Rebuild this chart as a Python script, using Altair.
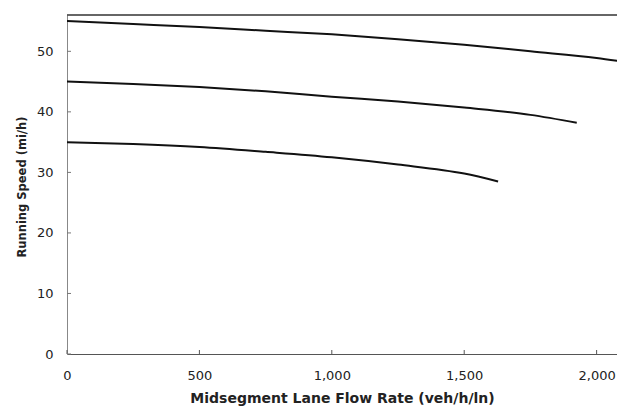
import altair as alt
import pandas as pd

# Data
flow_55 = [0, 250, 500, 750, 1000, 1250, 1500, 1750, 2000, 2100]
speed_55 = [55.0, 54.5, 54.0, 53.4, 52.8, 52.0, 51.1, 50.0, 48.9, 48.3]

flow_45 = [0, 250, 500, 750, 1000, 1250, 1500, 1750, 1925]
speed_45 = [45.0, 44.6, 44.1, 43.4, 42.5, 41.7, 40.7, 39.5, 38.2]

flow_35 = [0, 250, 500, 750, 1000, 1250, 1500, 1628]
speed_35 = [35.0, 34.7, 34.2, 33.4, 32.5, 31.3, 29.8, 28.5]

x_ticks = [0, 500, 1000, 1500, 2000]
y_ticks = [0, 10, 20, 30, 40, 50]
x_max = 2077
y_max = 56

rows = []
for name, fx, fy in [("55", flow_55, speed_55), ("45", flow_45, speed_45), ("35", flow_35, speed_35)]:
    for a, b in zip(fx, fy):
        rows.append({"series": name, "flow": a, "speed": b})
df = pd.DataFrame(rows)

W, H = 550, 339

xscale = alt.Scale(domain=[0, x_max], nice=False, zero=False)
yscale = alt.Scale(domain=[0, y_max], nice=False)

xaxis = alt.Axis(values=x_ticks, format=",d", title="Midsegment Lane Flow Rate (veh/h/ln)",
                 labelPadding=15, labelFlush=False, titleY=44, titleBaseline="middle",
                 titleFontSize=14)
yaxis = alt.Axis(values=y_ticks, title="Running Speed (mi/h)", labelPadding=14, labelFlush=False,
                 titleX=-45, titleY=H / 2 + 2, titleBaseline="middle", titleAngle=270,
                 titleFontSize=11.5)

lines = alt.Chart(df).mark_line(color="#111111", strokeWidth=2, interpolate="monotone", clip=True).encode(
    x=alt.X("flow:Q", scale=xscale, axis=xaxis),
    y=alt.Y("speed:Q", scale=yscale, axis=yaxis),
    detail="series:N",
)

xt = alt.Chart(pd.DataFrame({"flow": x_ticks})).mark_rule(color="#555555").encode(
    x=alt.X("flow:Q", scale=xscale, axis=xaxis), y=alt.value(H), y2=alt.value(H - 4))
yt = alt.Chart(pd.DataFrame({"speed": y_ticks})).mark_rule(color="#777777").encode(
    y=alt.Y("speed:Q", scale=yscale, axis=yaxis), x=alt.value(0), x2=alt.value(4))
top = alt.Chart(pd.DataFrame({"speed": [y_max]})).mark_rule(color="#333333", strokeWidth=1.5).encode(
    y=alt.Y("speed:Q", scale=yscale, axis=yaxis))

chart = alt.layer(lines, xt, yt, top).properties(
    width=W, height=H,
    autosize=alt.AutoSizeParams(type="none"),
    padding={"left": 67, "top": 15, "right": 0, "bottom": 54},
).configure_view(stroke=None).configure_axis(
    grid=False, ticks=False,
    labelFont="DejaVu Sans", labelFontSize=13, labelColor="#222222",
    titleFont="DejaVu Sans", titleFontWeight="bold", titleColor="#222222",
    domainColor="#555555", domainWidth=1,
).configure_axisLeft(domainColor="#888888")

chart.save("out.html", embed_options={"renderer": "svg", "actions": False})
